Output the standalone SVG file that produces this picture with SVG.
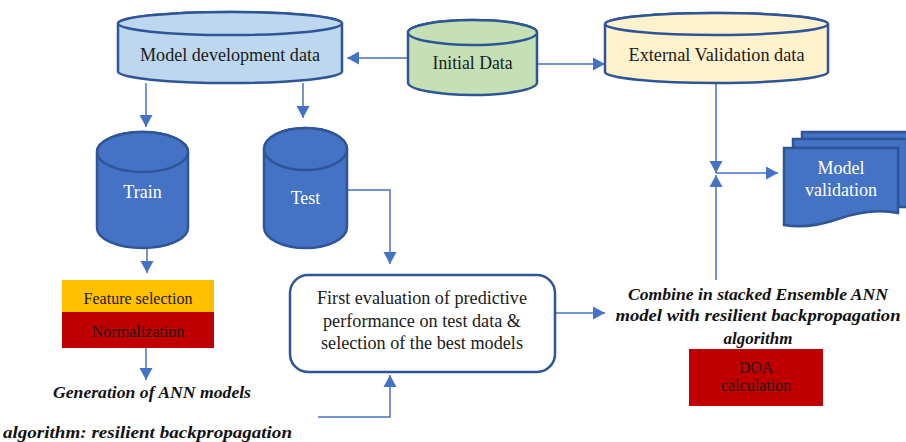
<svg xmlns="http://www.w3.org/2000/svg" width="906" height="442" viewBox="0 0 906 442" font-family="'Liberation Serif', 'Times New Roman', serif">
<style>
.cyl{stroke:#2F5597;stroke-width:2.5}
text{font-family:'Liberation Serif','Times New Roman',serif}
.t{font-size:18px;fill:#1a1a1a;text-anchor:middle}
.w{fill:#ffffff}
.bi{font-size:17px;font-weight:bold;font-style:italic;fill:#111;text-anchor:middle}
.c{fill:none;stroke:#4472C4;stroke-width:1.5}
</style>
<defs>
<marker id="ah" markerUnits="userSpaceOnUse" markerWidth="14" markerHeight="14" refX="12" refY="7" orient="auto">
<path d="M0,0.5 L12,7 L0,13.5 Z" fill="#4472C4"/>
</marker>
</defs>
<rect width="906" height="442" fill="#ffffff"/>

<g id="connectors">
<line class="c" x1="408" y1="58" x2="347" y2="58" marker-end="url(#ah)"/>
<line class="c" x1="537" y1="64" x2="605" y2="64" marker-end="url(#ah)"/>
<line class="c" x1="146" y1="83" x2="146" y2="127" marker-end="url(#ah)"/>
<line class="c" x1="303" y1="83" x2="303" y2="118" marker-end="url(#ah)"/>
<line class="c" x1="147" y1="248" x2="147" y2="273" marker-end="url(#ah)"/>
<line class="c" x1="146" y1="348" x2="146" y2="380" marker-end="url(#ah)"/>
<polyline class="c" points="347,190 390,190 390,264" marker-end="url(#ah)"/>
<polyline class="c" points="318,417 390,417 390,375" marker-end="url(#ah)"/>
<line class="c" x1="555" y1="313" x2="605" y2="313" marker-end="url(#ah)"/>
<line class="c" x1="716" y1="83" x2="716" y2="173" marker-end="url(#ah)"/>
<line class="c" x1="716" y1="280" x2="716" y2="175" marker-end="url(#ah)"/>
<line class="c" x1="716" y1="173" x2="778" y2="173" marker-end="url(#ah)"/>
</g>

<g id="model-dev">
<path class="cyl" fill="#BDD7EE" d="M118,23.5 V71.5 A112,11.5 0 0 0 342,71.5 V23.5 A112,11.5 0 0 0 118,23.5 Z"/>
<ellipse class="cyl" fill="#BDD7EE" cx="230" cy="23.5" rx="112" ry="11.5"/>
<text class="t" x="230" y="61" textLength="180" lengthAdjust="spacingAndGlyphs">Model development data</text>
</g>

<g id="initial">
<path class="cyl" fill="#C5E0B4" d="M408,32.5 V82.5 A64.5,12.5 0 0 0 537,82.5 V32.5 A64.5,12.5 0 0 0 408,32.5 Z"/>
<ellipse class="cyl" fill="#C5E0B4" cx="472.5" cy="32.5" rx="64.5" ry="12.5"/>
<text class="t" x="472.5" y="69" textLength="80" lengthAdjust="spacingAndGlyphs">Initial Data</text>
</g>

<g id="external">
<path class="cyl" fill="#FFF2CC" d="M605,24 V72 A111.5,11 0 0 0 828,72 V24 A111.5,11 0 0 0 605,24 Z"/>
<ellipse class="cyl" fill="#FFF2CC" cx="716.5" cy="24" rx="111.5" ry="11"/>
<text class="t" x="716.5" y="61" textLength="176" lengthAdjust="spacingAndGlyphs">External Validation data</text>
</g>

<g id="train">
<path class="cyl" fill="#4472C4" d="M97,152 V228 A45.5,20 0 0 0 188,228 V152 A45.5,20 0 0 0 97,152 Z"/>
<ellipse class="cyl" fill="#4472C4" cx="142.5" cy="152" rx="45.5" ry="20"/>
<text class="t w" x="142.5" y="198">Train</text>
</g>

<g id="test">
<path class="cyl" fill="#4472C4" d="M264,149 V227 A41.5,21 0 0 0 347,227 V149 A41.5,21 0 0 0 264,149 Z"/>
<ellipse class="cyl" fill="#4472C4" cx="305.5" cy="149" rx="41.5" ry="21"/>
<text class="t w" x="305.5" y="204">Test</text>
</g>

<g id="model-validation">
<path class="cyl" fill="#4472C4" d="M802,132 H915 V200 H898 V139 H802 Z"/>
<path class="cyl" fill="#4472C4" d="M793,139 H907 V207 H898 V148 H793 Z"/>
<path class="cyl" fill="#4472C4" d="M784,148 H898 V213 C878,209 858,212 838,219 C818,226 800,228 784,225 Z"/>
<text class="t w" x="841" y="174">Model</text>
<text class="t w" x="841" y="196">validation</text>
</g>

<g id="feature-norm">
<rect x="62" y="280" width="152" height="32" fill="#FFC000"/>
<rect x="62" y="312" width="152" height="36" fill="#C00000"/>
<text class="t" x="138" y="304" style="font-size:16px">Feature selection</text>
<text class="t" x="138" y="337" style="font-size:16px">Normalization</text>
</g>

<g id="generation">
<text class="bi" x="152" y="398" textLength="198" lengthAdjust="spacingAndGlyphs">Generation of ANN models</text>
</g>

<g id="algorithm">
<text class="bi" x="3" y="438" style="text-anchor:start" textLength="289" lengthAdjust="spacingAndGlyphs">algorithm: resilient backpropagation</text>
</g>

<g id="evaluation">
<rect x="290" y="275" width="265" height="97" rx="18" ry="18" fill="#ffffff" stroke="#2F5597" stroke-width="2.5"/>
<text class="t" x="422" y="304" textLength="210" lengthAdjust="spacingAndGlyphs">First evaluation of predictive</text>
<text class="t" x="422" y="327" textLength="198" lengthAdjust="spacingAndGlyphs">performance on test data &amp;</text>
<text class="t" x="422" y="349" textLength="202" lengthAdjust="spacingAndGlyphs">selection of the best models</text>
</g>

<g id="combine">
<text class="bi" x="758" y="300" textLength="260" lengthAdjust="spacingAndGlyphs">Combine in stacked Ensemble ANN</text>
<text class="bi" x="758" y="321" textLength="285" lengthAdjust="spacingAndGlyphs">model with resilient backpropagation</text>
<text class="bi" x="758" y="344">algorithm</text>
</g>

<g id="doa">
<rect x="689" y="349" width="134" height="57" fill="#C00000"/>
<text class="t" x="756" y="373" style="font-size:16px">DOA</text>
<text class="t" x="756" y="391" style="font-size:16px">calculation</text>
</g>
</svg>
